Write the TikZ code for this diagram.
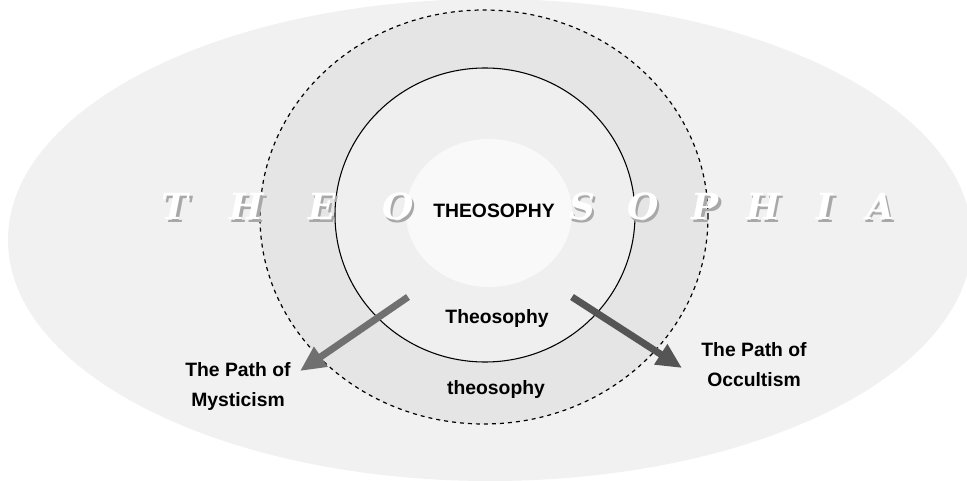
\documentclass[tikz,border=0pt]{standalone}
\usepackage{fontspec}
\setmainfont{Liberation Sans}
\newfontfamily\slabfont{DejaVu Serif}
\usetikzlibrary{shapes.geometric,arrows.meta}
\definecolor{outergray}{HTML}{F1F1F1}
\definecolor{bandgray}{HTML}{E5E5E5}
\definecolor{innergray}{HTML}{EFEFEF}
\definecolor{coregray}{HTML}{F9F9F9}
\definecolor{arrowL}{HTML}{707070}
\definecolor{arrowR}{HTML}{555555}
\definecolor{shadowgray}{HTML}{A8A8A8}
\newcommand{\shadowed}[1]{\makebox[0pt][l]{\kern2pt\raisebox{-2pt}{\textcolor{shadowgray}{#1}}}\textcolor{white}{#1}}
\tikzset{
  ring/.style={ellipse, inner sep=0pt, outer sep=0pt},
  lbl/.style={font=\fontsize{14.5pt}{22.5pt}\selectfont\bfseries, inner sep=0pt, align=center},
  bigletter/.style={font=\slabfont\fontsize{27pt}{28pt}\selectfont\bfseries\itshape, inner sep=0pt},
  patharrow/.style={line width=5.2pt, -{Triangle[length=19pt, width=17pt]}}
}
\begin{document}
\begin{tikzpicture}[x=0.75pt, y=-0.75pt]
\useasboundingbox (0,0) rectangle (967,481);
\fill[white] (0,0) rectangle (967,481);
% ellipses
\node[ring, fill=outergray, minimum width=723pt, minimum height=361.5pt] (outer) at (490,240) {};
\node[ring, fill=bandgray, draw=black, dashed, line width=0.9pt, minimum width=336pt, minimum height=310.5pt] (band) at (484,217) {};
\node[ring, fill=innergray, draw=black, line width=0.8pt, minimum width=225pt, minimum height=220.5pt] (inner) at (485,215) {};
\node[ring, fill=coregray, minimum width=124.5pt, minimum height=111pt] (core) at (489,213) {};
% THEOSOPHIA letters
\foreach \L/\X [count=\i] in {T/175, H/247, E/322, O/398, S/582, O/643, P/705, H/763, I/825, A/880}{
  \node[bigletter] (lt\i) at (\X,208) {\shadowed{\L}};
}
% labels
\node[lbl] (theo1) at (494,211) {THEOSOPHY};
\node[lbl] (theo2) at (497,318) {Theosophy};
\node[lbl] (theo3) at (496,389) {theosophy};
\node[lbl] (myst) at (238,386) {The Path of\\Mysticism};
\node[lbl] (occ) at (754,365) {The Path of\\Occultism};
% arrows
\coordinate (ls) at (408,297);
\coordinate (le) at (300,371);
\coordinate (rs) at (572,297);
\coordinate (re) at (682,368);
\draw[patharrow, draw=arrowL, fill=arrowL] (ls) -- (le);
\draw[patharrow, draw=arrowR, fill=arrowR] (rs) -- (re);
\end{tikzpicture}
\end{document}
